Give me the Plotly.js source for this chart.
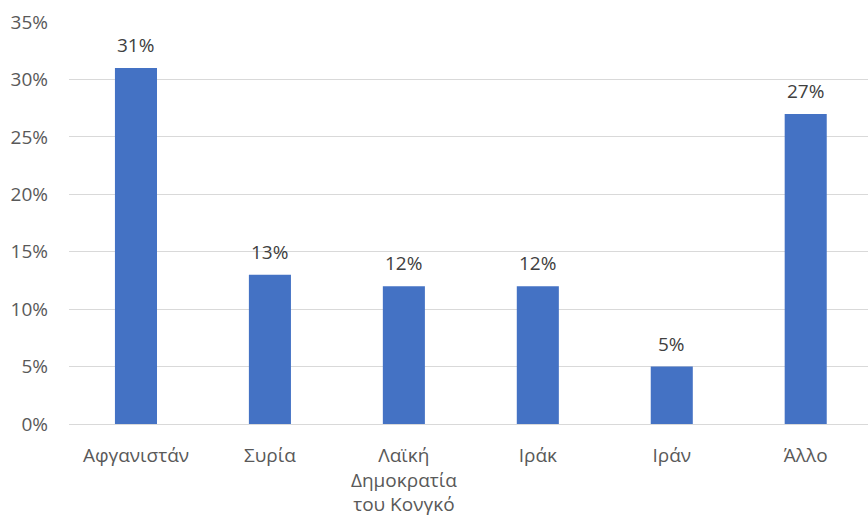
<!DOCTYPE html>
<html>
<head>
<meta charset="utf-8">
<script src="https://cdn.plot.ly/plotly-3.0.1.min.js"></script>
<style>html,body{margin:0;padding:0;background:#fff;}#chart{width:868px;height:518px;}</style>
</head>
<body>
<div id="chart"></div>
<script>
const categories = ["Αφγανιστάν", "Συρία", "Λαϊκή<br>Δημοκρατία<br>του Κονγκό", "Ιράκ", "Ιράν", "Άλλο"];
const values = [0.31, 0.13, 0.12, 0.12, 0.05, 0.27];
const labels = ["31%", "13%", "12%", "12%", "5%", "27%"];
const yTicks = [0, 0.05, 0.10, 0.15, 0.20, 0.25, 0.30, 0.35];

const font = "Open Sans, Liberation Sans, sans-serif";
const annotations = categories.map((c, i) => ({
  x: c, y: values[i], text: labels[i],
  xref: "x", yref: "y", showarrow: false,
  yanchor: "bottom", yshift: 8,
  font: {family: font, size: 19, color: "#404040"}
}));

Plotly.newPlot("chart", [{
  type: "bar",
  x: categories,
  y: values,
  marker: {color: "#4472C4"},
  hoverinfo: "skip"
}], {
  width: 868, height: 518,
  margin: {l: 69, r: 0, t: 22, b: 94},
  paper_bgcolor: "#fff", plot_bgcolor: "#fff",
  bargap: 0.686,
  showlegend: false,
  annotations: annotations,
  font: {family: font, size: 19, color: "#595959"},
  xaxis: {
    type: "category",
    range: [-0.5, 5.465],
    showgrid: false,
    showline: true, linecolor: "#d9d9d9", linewidth: 1,
    ticks: "", ticklabelstandoff: 14,
    tickfont: {family: font, size: 19, color: "#595959"}
  },
  yaxis: {
    range: [0, 0.35],
    tickvals: yTicks,
    tickformat: ".0%",
    showgrid: true, gridcolor: "#d9d9d9", gridwidth: 1,
    zeroline: false, showline: false,
    ticks: "", ticklabelstandoff: 20,
    tickfont: {family: font, size: 19, color: "#595959"}
  }
}, {staticPlot: true});
</script>
</body>
</html>
